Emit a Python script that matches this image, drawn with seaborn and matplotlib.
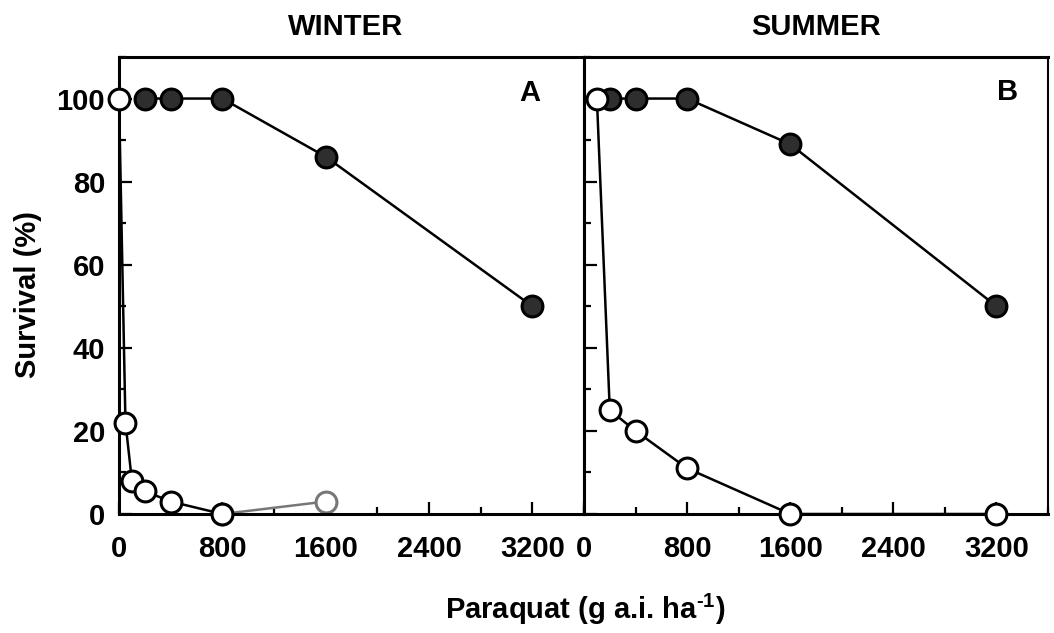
import matplotlib
matplotlib.use("Agg")
import matplotlib.pyplot as plt
from matplotlib.ticker import MultipleLocator
import seaborn as sns
import pandas as pd

# ---- data ----
winter_treated_dose = [200, 400, 800, 1600, 3200]
winter_treated_surv = [100, 100, 100, 86, 50]
winter_control_dose = [0, 50, 100, 200, 400, 800]
winter_control_surv = [100, 22, 8, 5.5, 3, 0]
winter_extra_dose = [800, 1600]
winter_extra_surv = [0, 3]

summer_treated_dose = [200, 400, 800, 1600, 3200]
summer_treated_surv = [100, 100, 100, 89, 50]
summer_control_dose = [100, 200, 400, 800, 1600, 3200]
summer_control_surv = [100, 25, 20, 11, 0, 0]

panel_titles = ["WINTER", "SUMMER"]
panel_letters = ["A", "B"]
x_ticks = [0, 800, 1600, 2400, 3200]
y_ticks = [0, 20, 40, 60, 80, 100]

sns.set_style("ticks")
plt.rcParams['font.family'] = ['Liberation Sans', 'DejaVu Sans']
plt.rcParams['font.weight'] = 'bold'
plt.rcParams['mathtext.fontset'] = 'custom'
plt.rcParams['mathtext.rm'] = 'Liberation Sans:bold'
plt.rcParams['mathtext.it'] = 'Liberation Sans:bold'
plt.rcParams['mathtext.bf'] = 'Liberation Sans:bold'
for k in ['text.color', 'axes.labelcolor', 'xtick.color', 'ytick.color', 'axes.edgecolor']:
    plt.rcParams[k] = 'black'

fig = plt.figure(figsize=(10.54, 6.33), dpi=100)
W, H = 1054, 633
axL = fig.add_axes([119 / W, 1 - 514 / H, (584 - 119) / W, (514 - 57) / H])
axR = fig.add_axes([584 / W, 1 - 514 / H, (1048 - 584) / W, (514 - 57) / H])

fill_col = "#2e2e2e"
ms = 15
mew = 2.2
lw = 1.8
FS = 21


def draw(ax, d, s, face, edge="black", line="black", z=3):
    df = pd.DataFrame({"dose": d, "surv": s})
    sns.lineplot(data=df, x="dose", y="surv", ax=ax, color=line, lw=lw,
                 marker="o", markersize=ms, markerfacecolor=face,
                 markeredgecolor=edge, markeredgewidth=mew, clip_on=False,
                 zorder=z, sort=False)


draw(axL, winter_extra_dose, winter_extra_surv, "white", edge="#777777", line="#777777", z=2)
draw(axL, winter_treated_dose, winter_treated_surv, fill_col, z=3)
draw(axL, winter_control_dose, winter_control_surv, "white", z=4)

draw(axR, summer_treated_dose, summer_treated_surv, fill_col, z=3)
draw(axR, summer_control_dose, summer_control_surv, "white", z=4)

letter_pos = [(0.884, 0.921), (0.913, 0.923)]
title_x = [0.487, 0.5]
for i, ax in enumerate([axL, axR]):
    ax.set_xlim(0, 3600)
    ax.set_ylim(0, 110)
    ax.set_xticks(x_ticks)
    ax.xaxis.set_minor_locator(MultipleLocator(400))
    ax.set_yticks(y_ticks)
    ax.yaxis.set_minor_locator(MultipleLocator(10))
    ax.tick_params(axis="both", which="major", direction="in", length=9, width=1.6,
                   labelsize=FS)
    ax.tick_params(axis="both", which="minor", direction="in", length=5, width=1.6)
    ax.tick_params(axis="x", which="major", pad=15)
    ax.tick_params(axis="y", which="major", pad=10)
    for sp in ax.spines.values():
        sp.set_visible(True)
        sp.set_linewidth(2.2)
    ax.set_xlabel("")
    ax.set_ylabel("")
    ax.set_title(panel_titles[i], fontsize=FS, fontweight="bold", pad=16, x=title_x[i])
    ax.text(letter_pos[i][0], letter_pos[i][1], panel_letters[i], transform=ax.transAxes,
            fontsize=FS, fontweight="bold", ha="center", va="center")
    for lab in ax.get_xticklabels() + ax.get_yticklabels():
        lab.set_fontweight("bold")

axR.spines["right"].set_linewidth(1.5)
axR.tick_params(axis="y", which="both", labelleft=False)
fig.text(28 / W, 1 - 295 / H, "Survival (%)", fontsize=FS, fontweight="bold",
         rotation=90, ha="center", va="center")
fig.text(585 / W, 1 - 609 / H, r"Paraquat (g a.i. ha$^{\text{-1}}$)", fontsize=FS,
         fontweight="bold", ha="center", va="center")

fig.savefig("out.png", dpi=100)
